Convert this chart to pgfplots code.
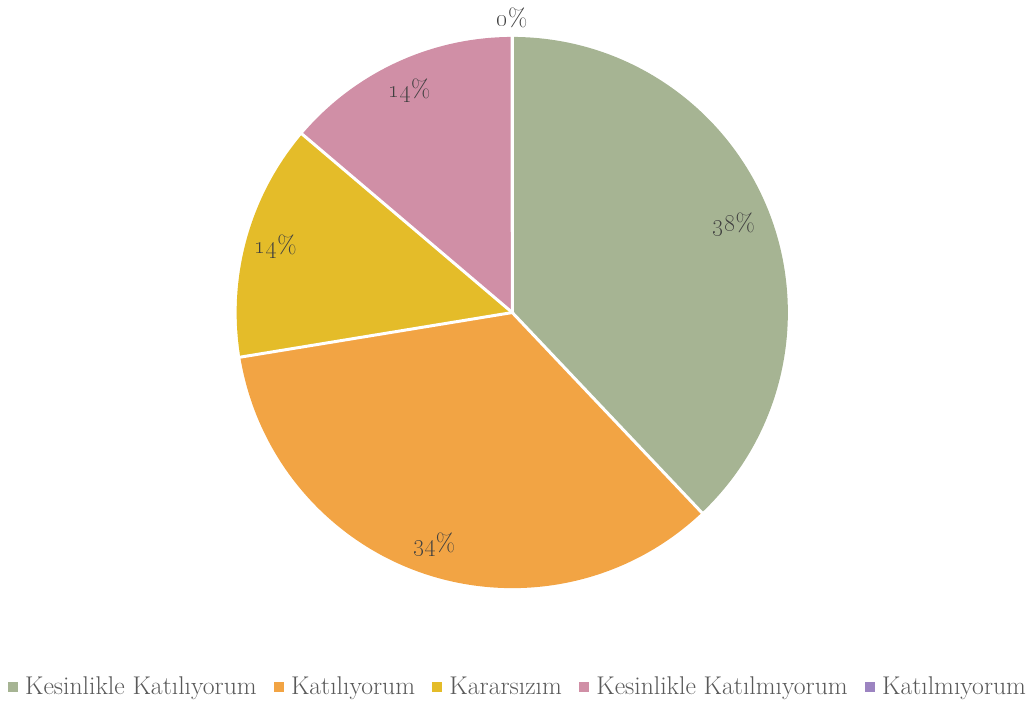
\documentclass[border=0pt]{standalone}
\usepackage{pgfplots}
\pgfplotsset{compat=1.18}
\definecolor{cA}{HTML}{A6B493}
\definecolor{cB}{HTML}{F2A444}
\definecolor{cC}{HTML}{E4BC29}
\definecolor{cD}{HTML}{D08FA6}
\definecolor{cE}{HTML}{9C84C1}
\definecolor{labgray}{HTML}{404040}
\definecolor{leggray}{HTML}{595959}
\begin{document}
\begin{tikzpicture}
\begin{axis}[
  scale only axis, width=1031pt, height=704pt,
  xmin=0, xmax=1031, ymin=0, ymax=704,
  hide axis, clip=false,
  legend columns=5,
  legend style={at={(rel axis cs:0.503,0.023)}, anchor=center, draw=none, fill=none,
    font=\fontsize{25.7}{28}\selectfont, text=leggray,
    /tikz/every odd column/.append style={column sep=6pt},
    /tikz/every even column/.append style={column sep=15pt}},
  legend image code/.code={\fill[#1] (0pt,-4.5pt) rectangle (9pt,4.5pt);},
]
\path (rel axis cs:0,0) rectangle (rel axis cs:1,1);
\addlegendimage{cA}\addlegendentry{Kesinlikle Katılıyorum}
\addlegendimage{cB}\addlegendentry{Katılıyorum}
\addlegendimage{cC}\addlegendentry{Kararsızım}
\addlegendimage{cD}\addlegendentry{Kesinlikle Katılmıyorum}
\addlegendimage{cE}\addlegendentry{Katılmıyorum}
\pgfplotsextra{
  \gdef\pieA{90}
  \foreach \v/\c/\lab/\lr in {11/cA/38/239, 10/cB/34/245, 4/cC/14/246, 4/cD/14/245, 0/cE/0/295} {
    \pgfmathsetmacro\pieB{\pieA - \v/29*360}
    \fill[\c] (axis cs:513,391) -- ++(\pieA:276pt) arc[start angle=\pieA, end angle=\pieB, radius=276pt] -- cycle;
    \xdef\pieA{\pieB}
  }
  \gdef\pieA{90}
  \foreach \v/\c/\lab/\lr in {11/cA/38/239, 10/cB/34/245, 4/cC/14/246, 4/cD/14/245, 0/cE/0/295} {
    \pgfmathsetmacro\pieB{\pieA - \v/29*360}
    \pgfmathsetmacro\pieM{(\pieA + \pieB)/2}
    \draw[white, line width=3pt] (axis cs:513,391) -- ++(\pieA:277pt);
    \path (axis cs:513,391) ++(\pieM:\lr pt) node[text=labgray, font=\fontsize{25}{28}\selectfont] {\oldstylenums{\lab}\%};
    \xdef\pieA{\pieB}
  }
}
\end{axis}
\end{tikzpicture}
\end{document}
